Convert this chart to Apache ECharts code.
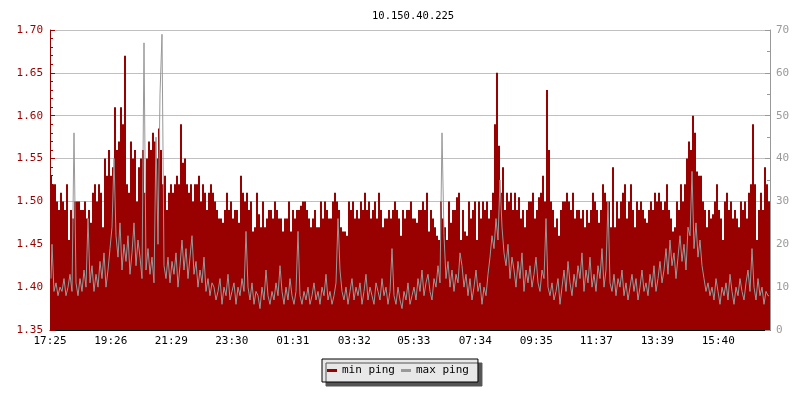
<!DOCTYPE html>
<html>
<head>
<meta charset="utf-8">
<script src="https://cdn.jsdelivr.net/npm/echarts@6/dist/echarts.min.js"></script>
<style>
html,body{margin:0;padding:0;background:#fff;}
#chart{width:800px;height:400px;}
</style>
</head>
<body>
<div id="chart"></div>
<script>
// one sample per 4 minutes, starting 17:25
const minPing = [
1.53,1.52,1.52,1.50,1.49,1.51,1.50,1.49,1.52,1.455,1.49,1.48,1.50,1.50,1.50,1.49,1.49,1.50,1.48,1.49,1.475,1.51,1.52,1.50,1.52,1.51,1.47,1.55,1.53,1.56,
1.53,1.54,1.61,1.56,1.57,1.61,1.59,1.67,1.52,1.51,1.57,1.55,1.56,1.50,1.54,1.55,1.56,1.51,1.55,1.57,1.56,1.58,1.57,1.55,1.585,1.56,1.52,1.53,1.49,1.51,
1.52,1.51,1.52,1.53,1.52,1.59,1.545,1.55,1.52,1.51,1.52,1.50,1.52,1.52,1.53,1.50,1.52,1.51,1.49,1.51,1.52,1.51,1.50,1.49,1.48,1.48,1.475,1.49,1.51,1.49,
1.50,1.48,1.49,1.49,1.475,1.53,1.51,1.50,1.51,1.49,1.50,1.465,1.47,1.51,1.485,1.47,1.50,1.47,1.48,1.49,1.49,1.48,1.50,1.49,1.48,1.48,1.465,1.48,1.48,1.50,
1.465,1.49,1.48,1.49,1.49,1.495,1.50,1.50,1.49,1.48,1.47,1.48,1.49,1.47,1.47,1.50,1.48,1.50,1.49,1.48,1.48,1.50,1.51,1.50,1.49,1.47,1.465,1.465,1.46,1.50,
1.49,1.50,1.48,1.49,1.48,1.50,1.49,1.51,1.49,1.50,1.48,1.49,1.50,1.48,1.51,1.49,1.47,1.48,1.48,1.49,1.48,1.49,1.50,1.49,1.48,1.46,1.49,1.48,1.49,1.49,
1.50,1.48,1.48,1.475,1.49,1.49,1.50,1.49,1.51,1.465,1.49,1.48,1.47,1.46,1.455,1.50,1.48,1.47,1.455,1.50,1.475,1.49,1.49,1.505,1.51,1.455,1.49,1.465,1.46,1.50,
1.48,1.49,1.50,1.455,1.50,1.48,1.50,1.49,1.50,1.48,1.49,1.51,1.59,1.65,1.565,1.51,1.54,1.49,1.51,1.50,1.51,1.49,1.51,1.49,1.505,1.48,1.49,1.47,1.49,1.50,
1.50,1.51,1.48,1.49,1.505,1.51,1.53,1.50,1.63,1.56,1.50,1.49,1.47,1.48,1.46,1.49,1.50,1.50,1.51,1.50,1.49,1.51,1.48,1.49,1.49,1.48,1.49,1.47,1.49,1.475,
1.49,1.51,1.50,1.49,1.475,1.49,1.52,1.51,1.50,1.50,1.47,1.54,1.47,1.50,1.48,1.50,1.51,1.52,1.48,1.50,1.52,1.49,1.47,1.50,1.49,1.50,1.49,1.48,1.475,1.49,
1.50,1.49,1.51,1.50,1.51,1.50,1.49,1.50,1.52,1.49,1.48,1.465,1.47,1.50,1.49,1.52,1.50,1.52,1.55,1.57,1.56,1.60,1.58,1.535,1.53,1.53,1.50,1.49,1.47,1.49,
1.48,1.485,1.50,1.52,1.49,1.48,1.455,1.50,1.51,1.49,1.50,1.48,1.49,1.48,1.47,1.50,1.49,1.50,1.48,1.51,1.52,1.59,1.52,1.455,1.49,1.51,1.49,1.54,1.52,1.50
];
const maxPing = [
12,20,9,11,8,10,9,12,8,10,13,9,46,11,8,12,9,14,10,26,11,15,9,13,10,16,12,18,10,14,
19,24,40,22,17,25,14,20,16,22,13,18,25,15,21,17,12,67,14,19,13,17,11,45,20,55,69,15,12,17,
11,16,13,18,10,15,21,14,19,12,17,22,13,16,10,14,11,17,9,12,8,11,10,7,9,12,6,10,8,13,
7,9,11,6,10,8,12,9,23,10,7,11,6,9,8,5,10,7,14,8,6,9,7,11,8,15,9,6,10,7,
12,8,6,9,23,8,6,9,7,10,6,8,11,7,9,6,10,8,13,7,9,6,8,11,26,14,9,7,10,6,
9,12,7,10,8,11,6,9,13,7,10,8,6,11,9,7,12,8,10,6,9,19,8,6,10,7,5,9,7,11,
6,8,10,7,12,9,14,8,11,13,9,7,12,10,15,11,46,22,12,16,10,14,9,13,11,18,15,10,13,8,
12,7,10,14,9,11,6,10,8,13,17,22,19,26,21,35,24,18,15,20,12,17,14,10,16,12,18,9,14,11,
15,10,13,17,11,9,14,12,26,10,8,11,7,9,12,6,10,14,9,16,11,8,13,10,15,12,18,9,14,11,
17,10,13,9,15,12,19,10,14,30,11,9,13,8,12,10,14,8,11,7,10,13,9,12,7,10,14,9,11,8,
13,10,15,9,12,16,11,14,19,13,21,15,18,12,17,22,16,20,14,24,22,37,19,25,17,21,15,12,9,11,
8,10,7,12,9,6,10,8,11,7,13,9,6,10,8,12,9,7,11,14,9,19,10,7,12,8,10,6,9,8
];
const tickLabels = ['17:25','19:26','21:29','23:30','01:31','03:32','05:33','07:34','09:35','11:37','13:39','15:40'];
const tickPos = [0,30.4,60.6,90.9,121.4,152.1,181.9,212.6,243.1,273.1,303.6,334.1];
const titleText = '10.150.40.225';
const seriesNames = ['min ping','max ping'];

const FONT = "'DejaVu Sans Mono', monospace";
const N = minPing.length;
const minData = minPing.map((v,i)=>[i + 0.5, v]);
const maxData = maxPing.map((v,i)=>[i + 0.5, v]);

const chart = echarts.init(document.getElementById('chart'), null, {renderer:'canvas'});
chart.setOption({
  animation:false,
  backgroundColor:'#ffffff',
  title:{text:titleText, left:367, top:6,
    textStyle:{fontFamily:FONT, fontSize:10.5, fontWeight:'normal', color:'#000'}},
  legend:{
    data:[{name:seriesNames[0], itemStyle:{color:'#990000'}},{name:seriesNames[1], itemStyle:{color:'#999999'}}],
    left:322, top:359, icon:'rect', itemWidth:10, itemHeight:3, itemGap:6,
    padding:[6,9,6,5],
    backgroundColor:'#e8e8e8', borderColor:'#000', borderWidth:1,
    shadowColor:'#555', shadowOffsetX:4, shadowOffsetY:4, shadowBlur:0,
    textStyle:{fontFamily:FONT, fontSize:11, color:'#000'}
  },
  grid:{left:50, right:30, top:30, bottom:70, containLabel:false},
  xAxis:{
    type:'value', min:0, max:N,
    axisLine:{show:true, onZero:false, lineStyle:{color:'#000', width:1}},
    axisTick:{show:true, inside:true, length:5, customValues:tickPos, lineStyle:{color:'#000'}},
    axisLabel:{show:true, customValues:tickPos, margin:6, color:'#000', fontFamily:FONT, fontSize:11,
      formatter:function(v){
        let best=0, bd=1e9;
        tickPos.forEach((p,k)=>{const d=Math.abs(p-v); if(d<bd){bd=d;best=k;}});
        return tickLabels[best];
      }},
    splitLine:{show:false}
  },
  yAxis:[{
    type:'value', min:1.35, max:1.70, interval:0.05, position:'left', startValue:1.35,
    axisLine:{show:true, lineStyle:{color:'#990000'}},
    axisTick:{show:true, inside:true, length:5, lineStyle:{color:'#990000'}},
    minorTick:{show:true, splitNumber:5, length:3, lineStyle:{color:'#990000'}},
    axisLabel:{color:'#990000', fontFamily:FONT, fontSize:11, margin:7,
      formatter:function(v){return v.toFixed(2);}},
    splitLine:{show:true, lineStyle:{color:'#c0c0c0', width:1}}
  },{
    type:'value', min:0, max:70, interval:10, position:'right',
    axisLine:{show:true, lineStyle:{color:'#999999'}},
    axisTick:{show:true, inside:true, length:5, lineStyle:{color:'#999999'}},
    minorTick:{show:true, splitNumber:2, length:3, lineStyle:{color:'#999999'}},
    axisLabel:{color:'#999999', fontFamily:FONT, fontSize:11, margin:6},
    splitLine:{show:false}
  }],
  series:[{
    name:seriesNames[0], type:'bar', yAxisIndex:0, data:minData,
    barWidth:2, clip:true, z:2,
    itemStyle:{color:'#990000', borderWidth:0}
  },{
    name:seriesNames[1], type:'line', yAxisIndex:1, data:maxData, step:'middle',
    symbol:'none', showSymbol:false, z:3,
    lineStyle:{width:1, color:'#999999'},
    itemStyle:{color:'#999999'}
  }]
});
</script>
</body>
</html>
